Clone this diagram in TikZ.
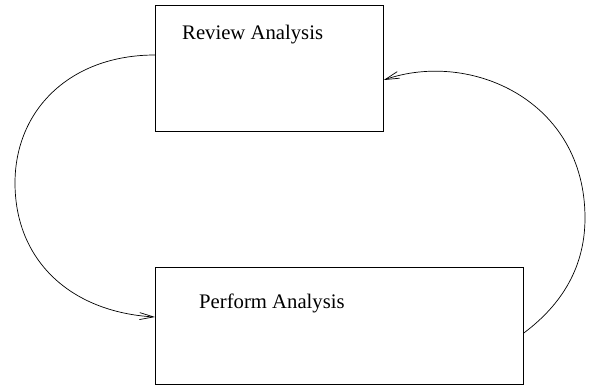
\documentclass[tikz,border=0pt]{standalone}
\usepackage{fontspec}
\setmainfont{Liberation Serif}
\usetikzlibrary{arrows.meta,calc}
\begin{document}
\begin{tikzpicture}[x=1pt,y=-1pt,
  box/.style={draw,line width=0.8pt,inner sep=0pt,anchor=north west},
  lbl/.style={anchor=base west,inner sep=0pt,font=\fontsize{20.7}{24}\selectfont},
  conn/.style={line width=0.7pt,-{Straight Barb[length=14pt,width=7pt,line width=0.7pt]}}]
\useasboundingbox (0,0) rectangle (590,388);
\node[box,minimum width=228pt,minimum height=126pt] (top) at (155,5) {};
\node[box,minimum width=368pt,minimum height=117pt] (bot) at (155,267) {};
\node[lbl] (toplbl) at (182,39) {Review Analysis};
\node[lbl] (botlbl) at (199,308) {Perform Analysis};
\coordinate (a1) at ($(top.north west)+(0,50)$);
\coordinate (a2) at ($(bot.north west)+(0,50)$);
\coordinate (b1) at ($(bot.north east)+(0,66)$);
\coordinate (b2) at ($(top.north east)+(0,75)$);
\draw[conn] (a1) .. controls (70,55) and (15,110) .. (15,183)
  .. controls (15,260) and (70,312) .. (a2);
\draw[conn] (b1) .. controls (568,300) and (585,260) .. (585,218)
  .. controls (585,100) and (470,50) .. (b2);
\end{tikzpicture}
\end{document}
